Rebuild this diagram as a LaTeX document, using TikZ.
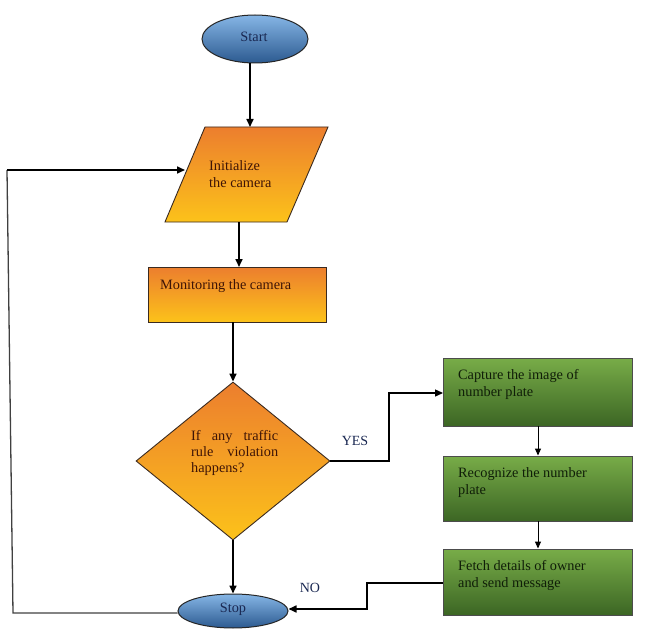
\documentclass[tikz,border=0pt]{standalone}
\usepackage{fontspec}
\setmainfont{Liberation Serif}
\usetikzlibrary{arrows.meta,shapes.geometric,calc}
\definecolor{orTop}{HTML}{EC7E2E}
\definecolor{orBot}{HTML}{FCC21A}
\definecolor{grTop}{HTML}{78AC48}
\definecolor{grBot}{HTML}{3C6624}
\definecolor{blTop}{HTML}{86B6E6}
\definecolor{blBot}{HTML}{2C5A90}
\definecolor{brownTxt}{HTML}{3E1406}
\definecolor{greenTxt}{HTML}{101E08}
\definecolor{navyTxt}{HTML}{1A2852}
\definecolor{edge}{HTML}{3A2A20}
\tikzset{
  txt/.style={font=\fontsize{14.3}{17}\selectfont, inner sep=0pt, align=left},
  term/.style={ellipse, draw=black!85, line width=1pt, top color=blTop, bottom color=blBot, inner sep=0pt},
  orbox/.style={draw=edge, line width=0.9pt, top color=orTop, bottom color=orBot, inner sep=0pt},
  grbox/.style={draw=black!70, line width=0.9pt, top color=grTop, bottom color=grBot, inner sep=0pt, minimum width=189pt},
  flow/.style={line width=1.6pt, -{Triangle[length=8pt,width=7pt]}},
  thinflow/.style={line width=1pt, -{Triangle[length=7pt,width=6pt]}},
  lbl/.style={font=\fontsize{14}{16}\selectfont, text=navyTxt, inner sep=0pt}
}
\begin{document}
\begin{tikzpicture}[x=1pt,y=-1pt]
\useasboundingbox (0,0) rectangle (649,642);
% Start
\node[term, minimum width=106pt, minimum height=48pt] (start) at (255,39) {};
\node[txt, text=navyTxt] (starttxt) at (254,37) {Start};
% Initialize (parallelogram)
\shade[draw=edge, line width=0.9pt, top color=orTop, bottom color=orBot] (205,127) -- (328,127) -- (287,222) -- (165,222) -- cycle;
\node[inner sep=0pt, minimum width=122pt, minimum height=95pt] (init) at (246,174.5) {};
\coordinate (initW) at (185,170);
\node[txt, text=brownTxt, anchor=north west] (inittxt) at (209,160) {Initialize\\the camera};
% Monitoring
\node[orbox, minimum width=178pt, minimum height=55pt] (mon) at (237,294.5) {};
\node[txt, text=brownTxt, anchor=base west] (montxt) at (160,289) {Monitoring the camera};
% Decision
\node[diamond, orbox, minimum width=194pt, minimum height=158pt] (dec) at (233,461) {};
\node[txt, text=brownTxt, anchor=north west, font=\fontsize{14.3}{16}\selectfont] (dectxt) at (191,430) {\makebox[87pt][s]{If any traffic}\\\makebox[87pt][s]{rule violation}\\happens?};
% Stop
\node[term, minimum width=110pt, minimum height=34pt] (stop) at (233,611) {};
\node[txt, text=navyTxt] (stoptxt) at (233,609) {Stop};
% Green boxes
\node[grbox, minimum height=68pt] (cap) at (538,392) {};
\node[txt, text=greenTxt, anchor=north west] (captxt) at (458,369) {Capture the image of\\number plate};
\node[grbox, minimum height=65pt] (rec) at (538,488.5) {};
\node[txt, text=greenTxt, anchor=north west] (rectxt) at (458,467) {Recognize the number\\plate};
\node[grbox, minimum height=66pt] (fet) at (538,582) {};
\node[txt, text=greenTxt, anchor=north west] (fettxt) at (458,560) {Fetch details of owner\\and send message};
% connectors
\draw[flow] (start.south -| 250,0) -- (250,127);
\draw[flow] (239,222) -- (239,267) coordinate (monN);
\draw[flow] (mon.south -| dec.north) -- (dec.north);
\draw[flow] (dec.south) -- (stop.north);
\draw[line width=1.2pt, -{Triangle[length=8pt,width=7pt]}] (dec.east) -- (dec.east -| 389,0) -- (389,393) -- (cap.west |- 0,393);
\draw[thinflow] (cap.south) -- (rec.north);
\draw[thinflow] (rec.south) -- (fet.north);
\draw[flow] (fet.west |- 0,583) -- (367,583) -- (367,609) -- (stop.east |- 0,609);
\draw[line width=1.3pt, black!75] (stop.west |- 0,613) -- (13,613) -- (7,170);
\draw[flow] (7,170) -- (initW);
% labels
\node[lbl] (yes) at (355,441) {YES};
\node[lbl] (no) at (310,588) {NO};
\end{tikzpicture}
\end{document}
